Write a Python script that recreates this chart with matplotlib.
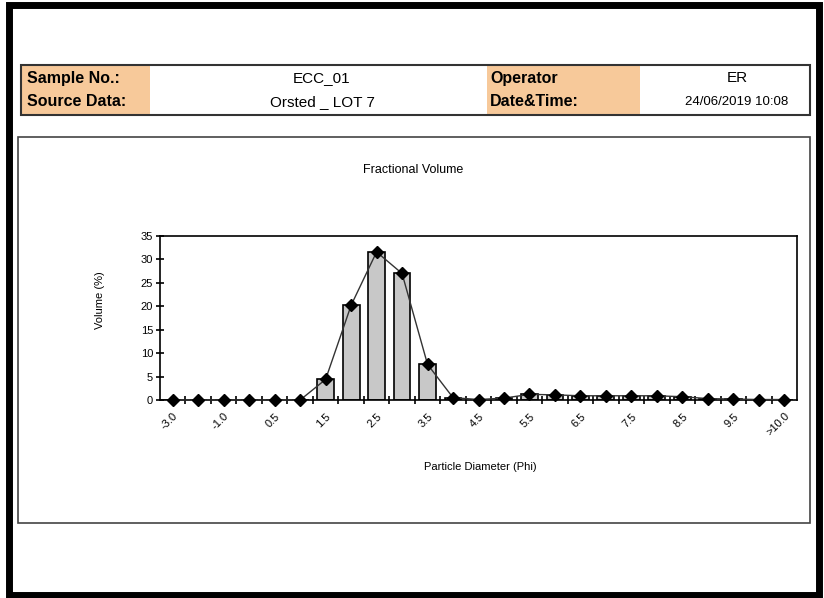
import numpy as np
import matplotlib.pyplot as plt
from matplotlib.patches import Rectangle

plt.rcParams['font.family'] = ['Liberation Sans', 'DejaVu Sans']

# Particle size classes (phi) and fractional volume (%)
phi_classes = ['-3.0', '-2.0', '-1.0', '0.0', '0.5', '1.0', '1.5', '2.0', '2.5', '3.0',
               '3.5', '4.0', '4.5', '5.0', '5.5', '6.0', '6.5', '7.0', '7.5', '8.0',
               '8.5', '9.0', '9.5', '10.0', '>10.0']
volume = [0, 0, 0, 0, 0, 0, 4.4, 20.2, 31.6, 27.0,
          7.6, 0.5, 0.1, 0.4, 1.2, 1.1, 0.9, 0.9, 0.9, 0.9,
          0.7, 0.3, 0.2, 0.1, 0.1]
y_ticks = [0, 5, 10, 15, 20, 25, 30, 35]

# Header info
header_left = [('Sample No.:', 'ECC_01'), ('Source Data:', 'Orsted _ LOT 7')]
header_right = [('Operator', 'ER'), ('Date&Time:', '24/06/2019 10:08')]

W, H = 824, 598
fig = plt.figure(figsize=(W / 100, H / 100), dpi=100)

# background layer in pixel coordinates
bg = fig.add_axes([0, 0, 1, 1])
bg.set_xlim(0, W)
bg.set_ylim(H, 0)
bg.axis('off')

# outer black frame
bg.add_patch(Rectangle((9, 5), 810, 590, fill=False, edgecolor='black', lw=5))

# header table
orange = '#F7C99A'
row_y = [66, 90]
row_h = 24
for cx, cw in [(22, 128), (487, 153)]:
    bg.add_patch(Rectangle((cx, 66), cw, 48, facecolor=orange, edgecolor='none'))
bg.add_patch(Rectangle((21, 65), 789, 50, fill=False, edgecolor='#333333', lw=1.5))
for (lab, val), ry in zip(header_left, row_y):
    bg.text(27, ry + row_h / 2, lab, fontsize=11.5, fontweight='bold', va='center', ha='left')
    bg.text(322, ry + row_h / 2, val, fontsize=11, va='center', ha='center')
for i, ((lab, val), ry) in enumerate(zip(header_right, row_y)):
    bg.text(490, ry + row_h / 2, lab, fontsize=11.5, fontweight='bold', va='center', ha='left')
    bg.text(737, ry + row_h / 2, val, fontsize=11 if i == 0 else 9.5, va='center', ha='center')

# chart area border
bg.add_patch(Rectangle((18, 137), 792, 386, fill=False, edgecolor='#444444', lw=1.2))
bg.text(413, 170, 'Fractional Volume', fontsize=9, ha='center', va='center')
bg.text(480, 467, 'Particle Diameter (Phi)', fontsize=8, ha='center', va='center')
bg.text(100, 300, 'Volume (%)', fontsize=8, ha='center', va='center', rotation=90)

# plot axes
ax = fig.add_axes([160 / W, (H - 400) / H, (797 - 160) / W, (400 - 236) / H])
x = np.arange(len(phi_classes))
ax.bar(x, volume, width=0.66, color='#C8C8C8', edgecolor='black', linewidth=1.2, zorder=2)
ax.plot(x, volume, color='#333333', lw=1, marker='D', markersize=6,
        markerfacecolor='black', markeredgecolor='black', zorder=3, clip_on=False)

ax.set_xlim(-0.5, len(phi_classes) - 0.5)
ax.set_ylim(0, 35)
ax.set_yticks(y_ticks)
ax.tick_params(axis='y', direction='inout', length=6, width=1.2, labelsize=8, pad=2)

ax.set_xticks(x[::2])
ax.set_xticklabels(phi_classes[::2], rotation=45, ha='right', rotation_mode='anchor', fontsize=8)
ax.set_xticks(np.arange(len(phi_classes) - 1) + 0.5, minor=True)
ax.tick_params(axis='x', which='major', length=0, pad=8)
ax.tick_params(axis='x', which='minor', direction='inout', length=6, width=1.2)

for s in ax.spines.values():
    s.set_linewidth(1.2)

fig.savefig('out.png', dpi=100)
